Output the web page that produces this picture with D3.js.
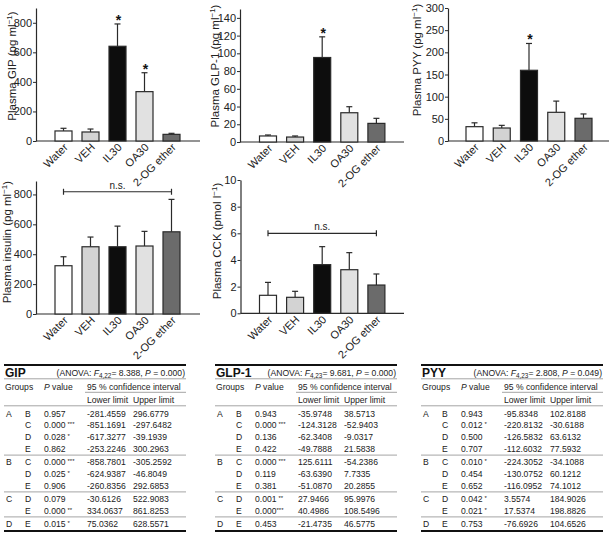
<!DOCTYPE html>
<html><head><meta charset="utf-8">
<script src="https://cdn.jsdelivr.net/npm/d3@7"></script>
<style>body{margin:0;background:#fff} svg{display:block;font-family:"Liberation Sans",Arial,sans-serif}</style>
</head><body><svg id="c" width="613" height="541"></svg>
<script>
// ---------- data ----------
const categories = ["Water", "VEH", "IL30", "OA30", "2-OG ether"];
const gipMean = [68, 61, 641, 334, 45];
const gipSem  = [18, 20, 151, 128, 7];
const gipStars = ["", "", "*", "*", ""];
const gipTicks = [0, 200, 400, 600, 800];

const glpMean = [6.8, 5.6, 95.3, 33, 21];
const glpSem  = [1.1, 1.2, 23.3, 6.8, 5.7];
const glpStars = ["", "", "*", "", ""];
const glpTicks = [0, 20, 40, 60, 80, 100, 120, 140];

const pyyMean = [32.3, 29.3, 159.5, 64.7, 51.2];
const pyySem  = [8.7, 6, 60.5, 25.3, 9.8];
const pyyStars = ["", "", "*", "", ""];
const pyyTicks = [0, 50, 100, 150, 200, 250, 300];

const insMean = [323, 450, 450, 455, 550];
const insSem  = [60, 65, 138, 98, 217];
const insTicks = [0, 200, 400, 600, 800];
const insNs = 818;

const cckMean = [1.35, 1.2, 3.65, 3.27, 2.12];
const cckSem  = [0.97, 0.45, 1.35, 1.28, 0.83];
const cckTicks = [0, 2, 4, 6, 8, 10];
const cckNs = 6;

// table data
const pairFirst  = ["A", "", "", "", "B", "", "", "C", "", "D"];
const pairSecond = ["B", "C", "D", "E", "C", "D", "E", "D", "E", "E"];

const gipP     = ["0.957", "0.000", "0.028", "0.862", "0.000", "0.025", "0.906", "0.079", "0.000", "0.015"];
const gipPSig  = ["", "***", "*", "", "***", "*", "", "", "**", "*"];
const gipLower = ["-281.4559", "-851.1691", "-617.3277", "-253.2246", "-858.7801", "-624.9387", "-260.8356", "-30.6126", "334.0637", "75.0362"];
const gipUpper = ["296.6779", "-297.6482", "-39.1939", "300.2963", "-305.2592", "-46.8049", "292.6853", "522.9083", "861.8253", "628.5571"];

const glpP     = ["0.943", "0.000", "0.136", "0.422", "0.000", "0.119", "0.381", "0.001", "0.000", "0.453"];
const glpPSig  = ["", "***", "", "", "***", "", "", "**", "***", ""];
const glpLower = ["-35.9748", "-124.3128", "-62.3408", "-49.7888", "125.6111", "-63.6390", "-51.0870", "27.9466", "40.4986", "-21.4735"];
const glpUpper = ["38.5713", "-52.9403", "-9.0317", "21.5838", "-54.2386", "7.7335", "20.2855", "95.9976", "108.5496", "46.5775"];

const pyyP     = ["0.943", "0.012", "0.500", "0.707", "0.010", "0.454", "0.652", "0.042", "0.021", "0.753"];
const pyyPSig  = ["", "*", "", "", "*", "", "", "*", "*", ""];
const pyyLower = ["-95.8348", "-220.8132", "-126.5832", "-112.6032", "-224.3052", "-130.0752", "-116.0952", "3.5574", "17.5374", "-76.6926"];
const pyyUpper = ["102.8188", "-30.6188", "63.6132", "77.5932", "-34.1088", "60.1212", "74.1012", "184.9026", "198.8826", "104.6526"];

// ---------- drawing ----------
const svg = d3.select("#c");
const fills = ["#ffffff", "#d3d3d3", "#0d0d0d", "#e1e1e1", "#6b6b6b"];
const ink = "#2a2a2a";

function barPanel(o) {
  const g = svg.append("g");
  const y = d3.scaleLinear().domain([0, o.max]).range([o.y0, o.yTop]);
  const x = d3.scalePoint().domain(categories).range([o.first, o.first + 4 * o.step]);
  const bw = 17;

  g.append("line").attr("x1", o.ax).attr("x2", o.xEnd).attr("y1", o.y0).attr("y2", o.y0)
    .attr("stroke", ink).attr("stroke-width", 1.2);
  const ya = g.append("g").attr("transform", `translate(${o.ax},0)`)
    .call(d3.axisLeft(y).tickValues(o.ticks).tickSize(3).tickSizeOuter(0).tickPadding(1));
  ya.select(".domain").attr("stroke", ink).attr("stroke-width", 1.2);
  ya.selectAll(".tick line").attr("stroke", ink);
  ya.selectAll(".tick text").attr("font-size", 11).attr("fill", "#222")
    .attr("font-family", "Liberation Sans, Arial, sans-serif");

  const eb = g.selectAll(".eb").data(categories).enter().append("g");
  eb.append("line").attr("x1", d => x(d)).attr("x2", d => x(d))
    .attr("y1", (d, i) => y(o.mean[i])).attr("y2", (d, i) => y(o.mean[i] + o.sem[i]))
    .attr("stroke", ink).attr("stroke-width", 1.2);
  eb.append("line").attr("x1", d => x(d) - 3).attr("x2", d => x(d) + 3)
    .attr("y1", (d, i) => y(o.mean[i] + o.sem[i])).attr("y2", (d, i) => y(o.mean[i] + o.sem[i]))
    .attr("stroke", ink).attr("stroke-width", 1.2);

  g.selectAll(".bar").data(categories).enter().append("rect")
    .attr("x", d => x(d) - bw / 2).attr("width", bw)
    .attr("y", (d, i) => y(o.mean[i])).attr("height", (d, i) => o.y0 - y(o.mean[i]))
    .attr("fill", (d, i) => fills[i]).attr("stroke", ink).attr("stroke-width", 1.2);

  if (o.stars) {
    g.selectAll(".star").data(categories.filter((d, i) => o.stars[i])).enter().append("text")
      .attr("x", d => x(d) + 1)
      .attr("y", d => { const i = categories.indexOf(d); return y(o.mean[i] + o.sem[i]) + 1; })
      .attr("text-anchor", "middle").attr("font-size", 14).attr("font-weight", "bold")
      .attr("fill", "#111").text(d => o.stars[categories.indexOf(d)]);
  }

  if (o.ns !== undefined) {
    const yy = y(o.ns), xa = x(categories[0]), xb = x(categories[4]);
    g.append("line").attr("x1", xa).attr("x2", xb).attr("y1", yy).attr("y2", yy).attr("stroke", ink).attr("stroke-width", 1.2);
    [xa, xb].forEach(xx => g.append("line").attr("x1", xx).attr("x2", xx).attr("y1", yy - 3).attr("y2", yy + 3).attr("stroke", ink).attr("stroke-width", 1.2));
    g.append("text").attr("x", (xa + xb) / 2).attr("y", yy - 3).attr("text-anchor", "middle")
      .attr("font-size", 10).attr("fill", "#222").text("n.s.");
  }

  g.selectAll(".xl").data(categories).enter().append("text")
    .attr("transform", d => `translate(${x(d) + 5},${o.y0 + 7}) rotate(-45)`)
    .attr("text-anchor", "end").attr("font-size", 11).attr("fill", "#222").text(d => d);

  const t = g.append("text").attr("transform", `translate(${o.lx},${o.ly}) rotate(-90)`)
    .attr("text-anchor", "middle").attr("font-size", 11.5).attr("fill", "#222");
  t.append("tspan").text(o.label);
  t.append("tspan").attr("dy", -4).attr("font-size", 8).text("−1");
  t.append("tspan").attr("dy", 4).text(")");
}

barPanel({ax: 36, y0: 141, yTop: 8, max: 900, first: 63.5, step: 27, xEnd: 200,
  mean: gipMean, sem: gipSem, stars: gipStars, ticks: gipTicks, lx: 16, ly: 66, label: "Plasma GIP (pg ml"});
barPanel({ax: 240, y0: 142, yTop: 9, max: 150, first: 268, step: 27.1, xEnd: 404,
  mean: glpMean, sem: glpSem, stars: glpStars, ticks: glpTicks, lx: 219, ly: 66, label: "Plasma GLP-1 (pg ml"});
barPanel({ax: 448, y0: 141, yTop: 8, max: 300, first: 474.5, step: 27.25, xEnd: 609,
  mean: pyyMean, sem: pyySem, stars: pyyStars, ticks: pyyTicks, lx: 421, ly: 60, label: "Plasma PYY (pg ml"});
barPanel({ax: 36, y0: 314, yTop: 181, max: 890, first: 63.5, step: 27, xEnd: 200,
  mean: insMean, sem: insSem, ticks: insTicks, ns: insNs, lx: 11, ly: 242, label: "Plasma insulin (pg ml"});
barPanel({ax: 240.5, y0: 313.3, yTop: 180, max: 10, first: 268, step: 27.1, xEnd: 404,
  mean: cckMean, sem: cckSem, ticks: cckTicks, ns: cckNs, lx: 221, ly: 241, label: "Plasma CCK (pmol l"});

// ---------- tables ----------
function table(o) {
  const g = svg.append("g").attr("transform", `translate(${o.left},0)`)
    .attr("font-size", 8.6).attr("fill", "#222");
  const W = 182, cL = 83, cU = 129;
  const hl = (yy, x1, w, c) => g.append("line").attr("x1", x1).attr("x2", W).attr("y1", yy).attr("y2", yy)
    .attr("stroke", c || "#9a9a9a").attr("stroke-width", w || 0.9);
  hl(365, 0, 2, "#111");
  hl(378.8, 0);
  hl(392.3, cL - 2);
  hl(405.8, 0);
  hl(531, 0, 2, "#111");

  g.append("text").attr("x", 1).attr("y", 376.8).attr("font-size", 12).attr("font-weight", "bold")
    .attr("fill", "#111").text(o.title);
  const an = g.append("text").attr("x", W - 1).attr("y", 376).attr("text-anchor", "end");
  an.append("tspan").text("(ANOVA: ");
  an.append("tspan").attr("font-style", "italic").text("F");
  an.append("tspan").attr("font-size", 6.4).attr("dy", 2).text(o.df);
  an.append("tspan").attr("dy", -2).text("= " + o.f + ", ");
  an.append("tspan").attr("font-style", "italic").text("P");
  an.append("tspan").text(" = " + o.p + ")");

  g.append("text").attr("x", 1).attr("y", 389.5).text("Groups");
  const pv = g.append("text").attr("x", 40).attr("y", 389.5);
  pv.append("tspan").attr("font-style", "italic").text("P");
  pv.append("tspan").text(" value");
  g.append("text").attr("x", cL).attr("y", 389.5).text("95 % confidence interval");
  g.append("text").attr("x", cL).attr("y", 403).text("Lower limit");
  g.append("text").attr("x", cU).attr("y", 403).text("Upper limit");

  let yy = 416.5;
  pairFirst.forEach((a, i) => {
    if (i > 0) {
      if (a) { hl(yy + 3.2, 0); yy += 13.2; } else yy += 11.8;
    }
    g.append("text").attr("x", 2).attr("y", yy).text(a);
    g.append("text").attr("x", 21).attr("y", yy).text(pairSecond[i]);
    const t = g.append("text").attr("x", 40).attr("y", yy);
    t.append("tspan").text(o.pv[i]);
    if (o.sig[i]) t.append("tspan").attr("dx", o.tight && i === 8 ? 0 : 2).attr("dy", -2).attr("font-size", 6).text(o.sig[i]);
    g.append("text").attr("x", cL).attr("y", yy).text(o.lower[i]);
    g.append("text").attr("x", cU).attr("y", yy).text(o.upper[i]);
  });
}

table({left: 4, title: "GIP", df: "4,22", f: "8.388", p: "0.000", pv: gipP, sig: gipPSig, lower: gipLower, upper: gipUpper});
table({left: 215, title: "GLP-1", df: "4,23", f: "9.681", p: "0.000", pv: glpP, sig: glpPSig, lower: glpLower, upper: glpUpper, tight: true});
table({left: 421, title: "PYY", df: "4,23", f: "2.808", p: "0.049", pv: pyyP, sig: pyyPSig, lower: pyyLower, upper: pyyUpper});
</script></body></html>
